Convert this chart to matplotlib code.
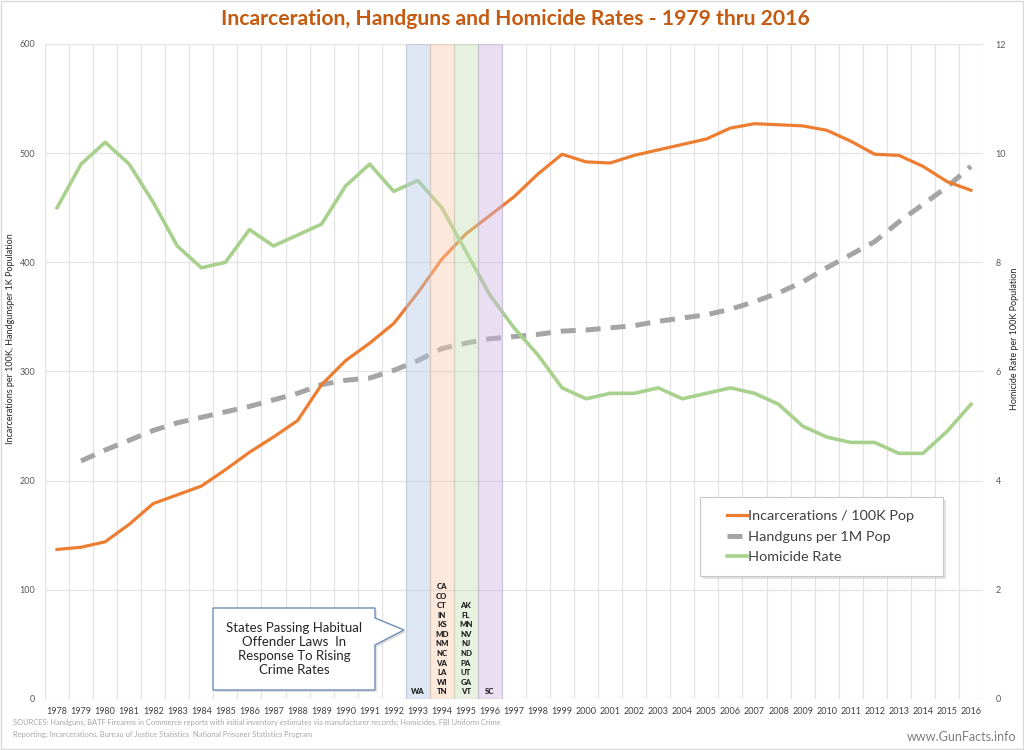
import numpy as np
import matplotlib
matplotlib.use('Agg')
import matplotlib.pyplot as plt
from matplotlib.patches import Polygon, Rectangle
from matplotlib.lines import Line2D
import matplotlib.transforms as mtransforms

plt.rcParams['font.family'] = ['Lato', 'DejaVu Sans']

# --- data ---
years = list(range(1978, 2017))

incarceration = [137, 139, 144, 160, 179, 187, 195, 210, 226, 240, 255, 288, 310,
                 326, 344, 372, 403, 426, 443, 460, 481, 499, 492, 491, 498, 503,
                 508, 513, 523, 527, 526, 525, 521, 511, 499, 498, 488, 474, 466]

# no handgun figure for 1978
handguns = [np.nan, 218, 228, 237, 246, 253, 258, 263, 268, 274, 280, 288, 292,
            294, 301, 310, 321, 326, 330, 332, 334, 337, 338, 340, 342, 346,
            349, 352, 357, 364, 372, 382, 395, 407, 419, 437, 453, 469, 488]

homicide = [9.0, 9.8, 10.2, 9.8, 9.1, 8.3, 7.9, 8.0, 8.6, 8.3, 8.5, 8.7, 9.4,
            9.8, 9.3, 9.5, 9.0, 8.2, 7.4, 6.8, 6.3, 5.7, 5.5, 5.6, 5.6, 5.7,
            5.5, 5.6, 5.7, 5.6, 5.4, 5.0, 4.8, 4.7, 4.7, 4.5, 4.5, 4.9, 5.4]

law_years = [1993, 1994, 1995, 1996]
law_states = [
    ['WA'],
    ['CA', 'CO', 'CT', 'IN', 'KS', 'MD', 'NM', 'NC', 'VA', 'LA', 'WI', 'TN'],
    ['AK', 'FL', 'MN', 'NV', 'NJ', 'ND', 'PA', 'UT', 'GA', 'VT'],
    ['SC'],
]
band_colors = ['#B4C7E7', '#F8CBAD', '#C5E0B4', '#CBB2E0']
band_edges = ['#A9B8D6', '#E9C3A8', '#B9CFAE', '#BCA8CF']

series_labels = ['Incarcerations / 100K Pop', 'Handguns per 1M Pop', 'Homicide Rate']

title = 'Incarceration, Handguns and Homicide Rates - 1979 thru 2016'
sources = ['SOURCES: Handguns, BATF Firearms in Commerce reports with initial inventory estimates via manufacturer records; Homicides, FBI Uniform Crime',
           'Reporting; Incarcerations, Bureau of Justice Statistics  National Prisoner Statistics Program']

# --- style ---
W, H = 1024, 750
c_orange = '#ED7D31'
c_gray = '#A5A5A5'
c_green = '#A9D18E'
c_grid = '#E3E3E3'
c_tick = '#595959'


def px(x, y):
    """pixel (top-left origin) -> figure fraction"""
    return x / W, 1 - y / H


fig = plt.figure(figsize=(W / 100, H / 100), dpi=100)
fig.patches.append(Rectangle((0.001, 0.001), 0.998, 0.998, transform=fig.transFigure,
                             fill=False, edgecolor='#D9D9D9', linewidth=1))

l, b = px(45, 699)
r, t = px(983, 44)
ax = fig.add_axes([l, b, r - l, t - b])
ax2 = ax.twinx()

x = np.arange(len(years))

ax.plot(x, incarceration, color=c_orange, linewidth=2.3, solid_joinstyle='round', zorder=3)
ax.plot(x, handguns, color=c_gray, linewidth=3.6, linestyle=(0, (3, 2)), zorder=2)
ax2.plot(x, homicide, color=c_green, linewidth=2.6, solid_joinstyle='round', zorder=3)

ax.set_xlim(-0.5, len(years) - 0.5)
ax.set_ylim(0, 600)
ax2.set_ylim(0, 12)
ax.set_yticks(np.arange(0, 601, 100))
ax2.set_yticks(np.arange(0, 13, 2))
ax.set_xticks(x)
ax.set_xticklabels([str(y) for y in years], fontsize=6.5, color='#404040')
ax.set_xticks(np.arange(-0.5, len(years), 1), minor=True)

ax.grid(axis='y', which='major', color=c_grid, linewidth=0.9)
ax.grid(axis='x', which='minor', color=c_grid, linewidth=0.9)
ax.set_axisbelow(True)
for a in (ax, ax2):
    for s in a.spines.values():
        s.set_visible(False)
    a.tick_params(which='both', length=0)
ax.tick_params(axis='y', labelsize=6.5, labelcolor=c_tick, pad=7)
ax2.tick_params(axis='y', labelsize=6.5, labelcolor=c_tick, pad=9)
ax.tick_params(axis='x', pad=6)

ax.set_ylabel('Incarcerations per 100K, Handgunsper 1K Population', fontsize=6.5, color='#262626')
ax.yaxis.set_label_coords(-0.032, 0.55)
ax2.set_ylabel('Homicide Rate per 100K Population', fontsize=6.5, color='#262626', rotation=90)
ax2.yaxis.set_label_coords(1.029, 0.55)

# law-year bands, drawn on top so the lines show through tinted
trans = mtransforms.blended_transform_factory(ax2.transData, ax2.transAxes)
for yr, states, fc, ec in zip(law_years, law_states, band_colors, band_edges):
    i = years.index(yr)
    ax2.axvspan(i - 0.5, i + 0.5, facecolor=fc, edgecolor=ec, alpha=0.42, linewidth=0.8, zorder=5)
    ax2.text(i, 0.006, '\n'.join(states), transform=trans, ha='center', va='bottom',
             fontsize=5.6, fontweight='black', color='#1A1A1A', linespacing=1.42, zorder=6)

# legend in a framed box with soft shadow
bx0, by0 = (700 - 45) / 938, (699 - 576) / 655
bw, bh = (943 - 700) / 938, (576 - 497) / 655
ax2.add_patch(Rectangle((bx0 + 0.003, by0 - 0.005), bw, bh, transform=ax2.transAxes,
                        facecolor='#D0D0D0', edgecolor='none', alpha=0.6, zorder=7))
ax2.add_patch(Rectangle((bx0, by0), bw, bh, transform=ax2.transAxes,
                        facecolor='white', edgecolor='#C8C8C8', linewidth=0.8, zorder=8))
handles = [Line2D([], [], color=c_orange, linewidth=2.3),
           Line2D([], [], color=c_gray, linewidth=3.6, linestyle=(0, (3, 2))),
           Line2D([], [], color=c_green, linewidth=2.6)]
leg = ax2.legend(handles, series_labels, loc='center left',
                 bbox_to_anchor=((727 - 45) / 938, (699 - 536.5) / 655),
                 frameon=False, fontsize=10.4, handlelength=1.35, handletextpad=0.1,
                 labelspacing=0.6, borderpad=0, borderaxespad=0)
leg.set_zorder(9)
for txt in leg.get_texts():
    txt.set_color('#404040')

# callout box pointing at the bands
pts = [px(213, 608), px(375, 608), px(375, 618), px(404, 630), px(375, 645),
       px(375, 690), px(213, 690)]
shadow = [(px_x + 2 / W, px_y - 2 / H) for px_x, px_y in pts]
fig.patches.append(Polygon(shadow, closed=True, transform=fig.transFigure,
                           facecolor='#CCCCCC', edgecolor='none', alpha=0.6, zorder=10))
fig.patches.append(Polygon(pts, closed=True, transform=fig.transFigure,
                           facecolor='white', edgecolor='#6F8DB9', linewidth=1, zorder=11))
fig.text(*px(294, 649), 'States Passing Habitual\nOffender Laws  In\nResponse To Rising\nCrime Rates',
         ha='center', va='center', fontsize=9.5, color='#262626', linespacing=1.2, zorder=12)

fig.text(*px(515, 19), title, ha='center', va='center', fontsize=15.2,
         fontweight='bold', color='#C55A11')
for k, line in enumerate(sources):
    fig.text(*px(13, 722 + 12 * k), line, ha='left', va='center', fontsize=5.4,
             color='#A6A6A6')
fig.text(*px(1016, 737), 'www.GunFacts.info', ha='right', va='center', fontsize=9,
         color='#7F7F7F')

fig.savefig('out.png', dpi=100)
